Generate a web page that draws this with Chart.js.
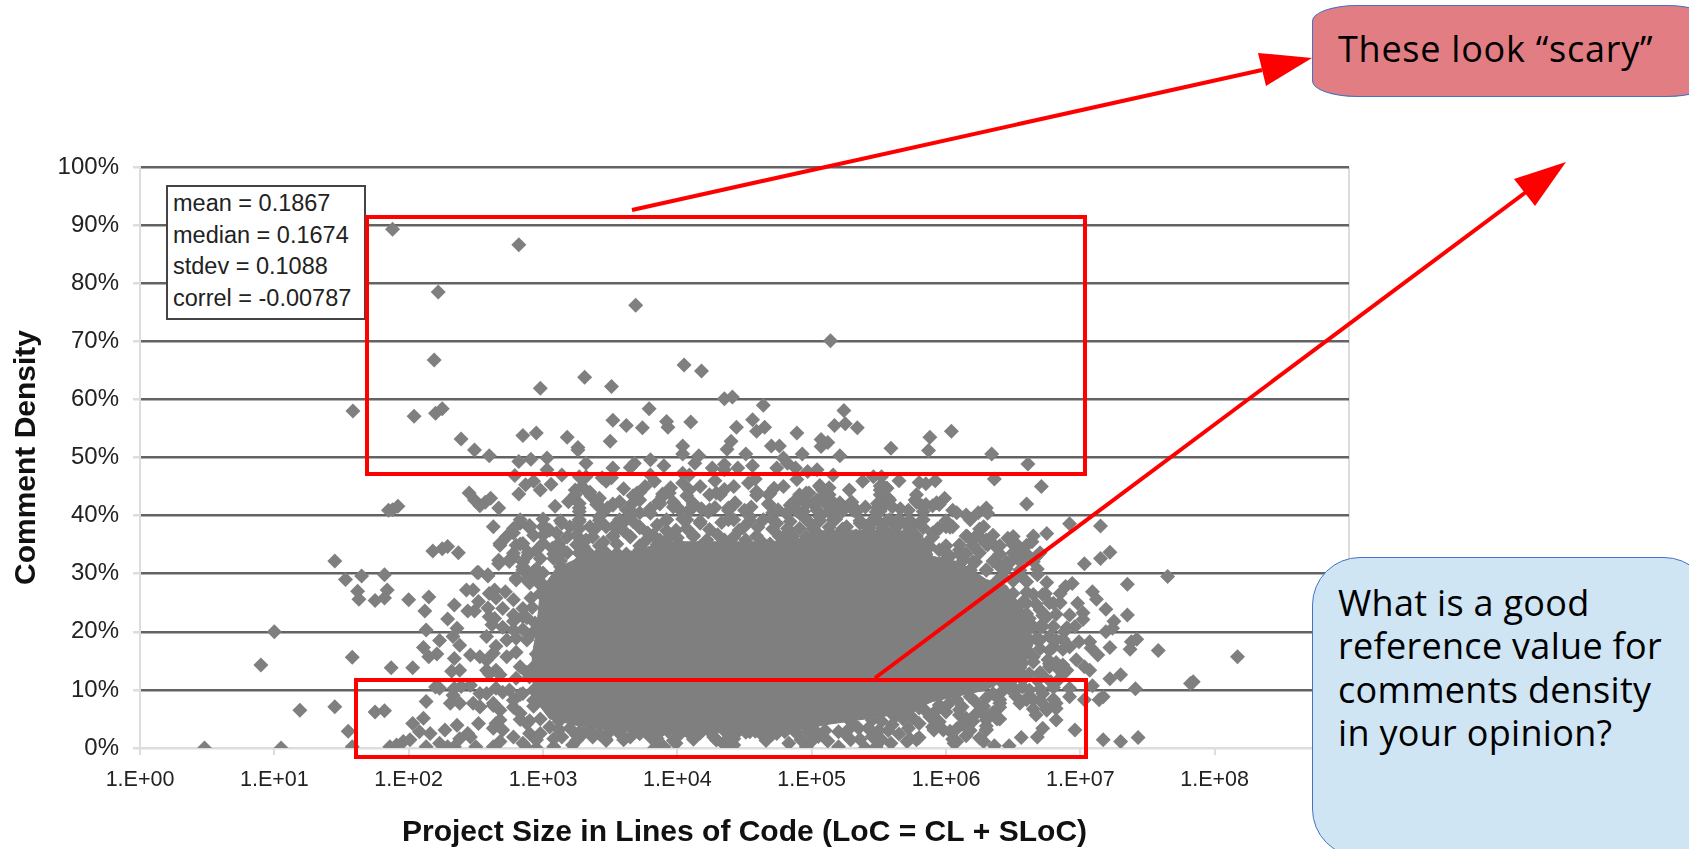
<!DOCTYPE html>
<html>
<head>
    <title>Comment Density</title>
    <style>
        body {
            margin: 0;
            background: white;
            overflow: hidden;
        }

        #page {
            position: relative;
            width: 1689px;
            height: 849px;
            overflow: hidden;
        }

        #chart {
            position: absolute;
            left: 0;
            top: 0;
        }

        #overlay {
            position: absolute;
            left: 0;
            top: 0;
        }

        .stats {
            position: absolute;
            left: 166px;
            top: 185px;
            width: 200px;
            height: 135px;
            box-sizing: border-box;
            background: white;
            border: 2px solid #444;
            padding: 1px 0 0 5px;
            font: 23.5px/31.5px "Liberation Sans", sans-serif;
            color: #222;
            white-space: nowrap;
        }

        .callout {
            position: absolute;
            box-sizing: border-box;
            border: 1px solid #4472c4;
            font-family: "Open Sans", sans-serif;
            font-size: 36px;
            color: black;
            white-space: nowrap;
        }

        .scary {
            left: 1312px;
            top: 5px;
            width: 400px;
            height: 92px;
            background: #e27d83;
            border-radius: 45px / 16px;
            padding: 18px 0 0 25px;
            letter-spacing: 0.75px;
        }

        .question {
            left: 1312px;
            top: 557px;
            width: 400px;
            height: 300px;
            background: #cfe5f4;
            border-radius: 48px;
            line-height: 43.4px;
            padding: 23px 0 0 25px;
            letter-spacing: 0.3px;
        }
    </style>
    <script src="https://cdn.jsdelivr.net/npm/chart.js"></script>
</head>
<body>

    <div id="page">
        <canvas id="chart" width="1689" height="849"></canvas>

        <div class="stats">mean = 0.1867<br>median = 0.1674<br>stdev = 0.1088<br>correl = -0.00787</div>

        <svg id="overlay" width="1689" height="849">
            <rect x="367" y="217" width="718" height="257" fill="none" stroke="#ff0000" stroke-width="4"/>
            <rect x="356" y="680" width="730" height="77" fill="none" stroke="#ff0000" stroke-width="4"/>
            <line x1="632" y1="210" x2="1262" y2="70" stroke="#ff0000" stroke-width="4"/>
            <polygon points="1312,58 1258,53 1266,86" fill="#ff0000"/>
            <line x1="875" y1="678" x2="1526" y2="192" stroke="#ff0000" stroke-width="4"/>
            <polygon points="1566,162 1514,179 1535,206" fill="#ff0000"/>
        </svg>

        <div class="callout scary">These look “scary”</div>
        <div class="callout question">What is a good<br>reference value for<br>comments density<br>in your opinion?</div>
    </div>

    <script>
        // every point below is [log10(LoC), comment density %]
        const xDecades = [1, 1e1, 1e2, 1e3, 1e4, 1e5, 1e6, 1e7, 1e8, 1e9];
        const xTickLabels = ['1.E+00', '1.E+01', '1.E+02', '1.E+03', '1.E+04', '1.E+05', '1.E+06', '1.E+07', '1.E+08', ''];

        const farOutliers = [
            [0.48, 0], [1.05, 0], [0.90, 14.3], [1.00, 20], [1.19, 6.5], [1.45, 7.1], [1.55, 2.9], [1.58, 15.6],
            [1.45, 32.2], [1.53, 29], [1.65, 29.6], [1.62, 27], [1.63, 25.6], [1.75, 25.4], [1.58, 0.2], [1.75, 6.2],
            [1.585, 58], [1.88, 89.3], [2.82, 86.6], [2.22, 78.5], [2.19, 66.8], [2.04, 57.1], [2.20, 57.6], [2.25, 58.4],
            [3.31, 63.8], [2.98, 61.9], [3.51, 62.2], [3.69, 76.2], [5.14, 70.1], [4.05, 65.9], [4.18, 64.9],
            [4.35, 60.1], [4.41, 60.4], [4.64, 59], [1.85, 40.9], [1.88, 41], [1.92, 41.6],
            [8.17, 15.7], [7.84, 11.4], [7.82, 11.1], [7.65, 29.5], [7.58, 16.8], [7.41, 10.2],
            [7.17, 1.4], [7.30, 1.1], [7.43, 1.8]
        ];

        const band50to60 = [
            [2.39, 53.2], [2.49, 51.3], [2.60, 50.3], [2.85, 53.8], [2.95, 54.2], [3.18, 53.5], [3.26, 51.3], [3.26, 51.7],
            [3.50, 52.8], [3.52, 56.4], [3.62, 55.5], [3.74, 55.1], [3.79, 58.4], [3.92, 56.2], [3.93, 55.2], [4.10, 56.1],
            [4.04, 52], [4.04, 50.6], [4.16, 50.3], [4.44, 55.2], [4.40, 52.8], [4.37, 51.4], [4.56, 56.5], [4.59, 54.5],
            [4.65, 55.2], [4.51, 50.6], [4.70, 52], [4.76, 52], [4.89, 54.2], [4.93, 50.6], [5.07, 53.1], [5.12, 52.6],
            [5.07, 51.9], [5.21, 50.3], [5.24, 58.1], [5.17, 55.5], [5.25, 55.8], [5.34, 55.1], [5.59, 51.6],
            [5.88, 53.5], [6.04, 54.5], [5.87, 51.2], [6.34, 50.6]
        ];

        const band40to50 = [
            [2.82, 49.3], [2.91, 49.7], [3.03, 49.9], [3.32, 49], [3.68, 49], [3.65, 48.3], [3.80, 49.6], [3.90, 48.6],
            [4.13, 49], [4.26, 48.2], [4.35, 48.8], [4.35, 47.9], [4.45, 48.2], [4.56, 48.6], [4.79, 49.9], [4.82, 49],
            [2.79, 46.9], [3.03, 47.9], [3.14, 47], [3.52, 48.2], [3.27, 46.7], [3.32, 46.7], [3.44, 46.5], [3.47, 45.9],
            [3.51, 46.5], [3.80, 47], [3.83, 45.9], [4.04, 47.3], [4.09, 47], [4.28, 46], [4.53, 45.6], [4.58, 46.3],
            [4.74, 48.2], [4.88, 48.2], [4.97, 47.6], [5.04, 47.9], [5.16, 47], [5.38, 45.9], [5.46, 46.7], [5.52, 46.7],
            [5.65, 46], [5.80, 45.7], [5.85, 45.5], [5.92, 46], [6.36, 46.3], [6.61, 48.9], [6.71, 45], [6.60, 42],
            [2.87, 45.3], [2.93, 45.9], [2.98, 44.4], [3.06, 45.4], [2.82, 43.7], [2.45, 43.9], [2.49, 42.7], [2.53, 41.7],
            [2.57, 42.3], [2.61, 43], [2.67, 41.3], [3.09, 41.6], [3.19, 42.4], [3.24, 44.4], [3.29, 45], [3.34, 43.9],
            [3.36, 43.3], [3.40, 41.9], [3.27, 41.3], [3.52, 42], [3.57, 42.4], [3.70, 43.9], [3.76, 45], [3.72, 42.7],
            [3.89, 43.3], [3.86, 42.4], [3.94, 43.9], [3.97, 41.5], [4.04, 45.6], [4.09, 44.4], [4.12, 42.1], [4.09, 41],
            [4.17, 45], [4.24, 43.6], [4.32, 43.6], [4.42, 45], [4.43, 42.1], [4.38, 41.3], [4.59, 44.1], [4.68, 43.6],
            [4.68, 42.1], [4.79, 45], [4.89, 46.2], [4.96, 43.9], [4.91, 42.7], [4.84, 41.8], [5.06, 45], [5.11, 43.6],
            [5.14, 41.6], [5.04, 42.7], [5.21, 41.8], [5.29, 42.1], [5.31, 41], [5.51, 44.4], [5.56, 44.7], [5.51, 41.6],
            [5.58, 42.7], [5.54, 44.9], [5.51, 43.6], [5.57, 43], [5.49, 41.3], [5.54, 41.8], [5.77, 42.7], [5.82, 41.7],
            [5.90, 41.7], [5.99, 43], [5.95, 41.9], [6.05, 40.9], [6.15, 40.1], [6.24, 40.5], [6.30, 41.3], [6.31, 40.4],
            [5.30, 42.3], [5.21, 41.9], [5.32, 41.3], [5.08, 44.4], [5.13, 43.6], [5.06, 42.7], [4.98, 43.9], [4.94, 42.7]
        ];

        // second pass over the same band, row by row
        const band40to50Rows = [
            [3.24, 43.6], [3.35, 44], [3.67, 43.4], [3.72, 44], [3.89, 43.7], [4.07, 43.4], [4.29, 43.9], [4.59, 43.5],
            [4.69, 43.8], [4.91, 43.6], [5.11, 44], [5.53, 43.5], [3.27, 42.1], [3.40, 42.4], [3.52, 41.8], [3.67, 42.2],
            [3.87, 42], [3.97, 42.3], [4.12, 41.9], [4.43, 42.2], [4.68, 41.9], [4.86, 42.2], [5.01, 42], [5.16, 42.3],
            [5.28, 41.9], [5.51, 42.2], [3.27, 40.7], [3.45, 40.9], [3.72, 40.5], [4.09, 40.8], [4.23, 40.6], [4.38, 40.9],
            [4.71, 40.5], [4.89, 40.8], [5.13, 40.6], [5.31, 40.9], [5.48, 40.6], [4.94, 40.7], [5.04, 40.9], [5.16, 40.5],
            [5.23, 40.8], [5.33, 40.6], [5.51, 40.8], [5.83, 40.7], [6.08, 40.5], [4.96, 42], [5.04, 42.3], [5.11, 41.9],
            [5.21, 42.2], [5.29, 41.9], [5.49, 42.1], [5.78, 42.3], [5.85, 41.9], [5.93, 42.2], [5.78, 43.6], [5.06, 45.2],
            [5.13, 44.8], [5.51, 45.1], [5.56, 44.7], [3.60, 44.6], [3.95, 44.8], [4.35, 44.5], [4.72, 44.7], [5.28, 44.4],
            [3.42, 43], [3.80, 41.2], [4.18, 41.2], [4.55, 41.5], [4.75, 41], [5.40, 41.5], [5.66, 41.2], [5.72, 40.9],
            [3.62, 41], [3.48, 41.3], [4.02, 41], [4.28, 41.4], [4.50, 40.9], [5.60, 41.5]
        ];

        const band30to40 = [
            [2.63, 38.1], [2.83, 38.7], [2.90, 38.3], [2.78, 37], [2.73, 36.4], [2.68, 35.2], [2.80, 34.9], [2.85, 35.2],
            [2.78, 32.9], [2.89, 33.2], [2.75, 32.4], [2.67, 31.7], [3.00, 38.1], [3.05, 37.5], [3.00, 35.2], [3.12, 35.2],
            [3.07, 34.4], [3.14, 38.7], [2.18, 33.9], [2.25, 34.3], [2.29, 34.7], [2.37, 33.6], [2.51, 30.2], [2.59, 29.8],
            [3.27, 39.3], [3.35, 38.1], [3.32, 35.8], [3.42, 39.8], [3.47, 38.1], [3.55, 38.7], [3.52, 36.4], [3.62, 39.3],
            [3.67, 40.4], [3.65, 36.4], [3.72, 38.1], [3.80, 40.4], [3.85, 38.4], [3.92, 39.3], [3.77, 35.8], [3.87, 35.8],
            [3.99, 37.5], [4.07, 39.3], [4.17, 38.7], [4.24, 41], [4.12, 36.4], [4.22, 35.8], [4.42, 39.3], [4.46, 37.5],
            [4.54, 39.8], [4.64, 39.3], [4.74, 38.7], [4.81, 40.4], [4.91, 40.4], [4.99, 38.7], [4.86, 36.4], [4.76, 36.4],
            [5.06, 39.8], [5.16, 39.3], [5.26, 38.1], [5.36, 38.7], [5.46, 39.3], [5.58, 39.3], [5.51, 37], [4.51, 35.8],
            [4.64, 35.2], [4.99, 35.8], [5.11, 35.2], [5.21, 35.8], [5.38, 36.4], [5.48, 34.7], [5.63, 36.4], [3.27, 33.5],
            [3.35, 32.4], [3.27, 31.2], [3.42, 33.5], [3.47, 31.8], [3.55, 33.5], [3.65, 32.4], [3.72, 34.1], [3.80, 31.8],
            [3.87, 33.5], [3.97, 34.1], [4.09, 33.5], [4.17, 34.7], [4.29, 34.1], [4.40, 34], [3.13, 31.2], [3.18, 30.1],
            [3.00, 30.1], [2.93, 30.4], [2.85, 31.2], [2.80, 29.2], [3.08, 32.6], [3.18, 33.6], [2.98, 32.6],
            [6.92, 38.6], [7.15, 38.2], [6.75, 36.9], [6.64, 35.5], [6.46, 36.1], [6.52, 35.2], [7.22, 33.7], [7.15, 32.6],
            [7.03, 31.7], [6.28, 38.1], [6.22, 36.4], [6.30, 35.8], [6.37, 34.7], [6.31, 35], [6.16, 36.4], [6.15, 33.5],
            [6.10, 34.1], [6.20, 32.1], [6.40, 31.2], [6.50, 33.5], [6.55, 34.1], [6.47, 31.8], [6.60, 32.9], [6.67, 32.9],
            [6.68, 29.8], [6.00, 38.1], [5.94, 37.8], [6.05, 38.1], [5.90, 37], [5.78, 33.4], [5.65, 38.7], [5.73, 38.1],
            [5.80, 38.7], [5.51, 38.7], [5.41, 38.1], [5.23, 37.5], [5.32, 35.8], [5.15, 36.4], [6.18, 39.3], [5.88, 34.7],
            [5.95, 34.1], [6.03, 33], [5.83, 32.4], [5.90, 31.8], [6.03, 30.6], [6.18, 30.6], [6.30, 30.6]
        ];

        // second pass, left half of the 30-40% band
        const band30to40Left = [
            [2.83, 39.3], [3.00, 39.4], [3.13, 39.1], [3.27, 39], [3.42, 39.2], [3.57, 39.3], [3.67, 39], [3.92, 39.2],
            [4.04, 39.4], [4.17, 39], [4.38, 39.3], [4.54, 39.1], [4.71, 39.3], [4.84, 39], [2.78, 37.8], [2.90, 37.9],
            [3.03, 37.7], [3.27, 37.8], [3.40, 38], [3.55, 37.6], [3.72, 37.9], [4.07, 37.8], [4.24, 37.6], [4.49, 37.9],
            [4.71, 37.7], [4.91, 37.8], [2.73, 36.4], [3.00, 36.6], [3.18, 36.3], [3.25, 36.6], [3.37, 36.3], [3.52, 36.5],
            [3.65, 36.3], [3.82, 36.6], [3.94, 36.3], [4.12, 36.6], [4.42, 36.3], [4.59, 36.5], [4.79, 36.3], [2.68, 34.9],
            [2.83, 35.1], [3.10, 34.8], [3.25, 35], [3.42, 34.8], [3.55, 35.1], [3.72, 34.8], [3.85, 35], [4.02, 34.9],
            [4.22, 35], [4.51, 34.8], [4.69, 35.1], [4.86, 34.9], [2.78, 33.5], [2.89, 33.7], [3.08, 33.4], [3.27, 33.6],
            [3.35, 33.4], [3.47, 33.6], [3.62, 33.4], [3.75, 33.6], [3.92, 33.4], [4.09, 33.6], [2.75, 32.1], [2.67, 32.3],
            [2.85, 32], [3.13, 32.2], [3.27, 32], [3.40, 32.2], [3.52, 32.1], [3.67, 32], [3.82, 32.2], [3.99, 32],
            [4.14, 32.2], [2.85, 30.7], [2.95, 30.8], [3.15, 30.6], [3.25, 30.8], [3.42, 30.6], [3.57, 30.8], [3.72, 30.6],
            [3.89, 30.8], [4.07, 30.7], [4.22, 30.7], [3.10, 37], [3.20, 38.1], [3.45, 35.4], [3.60, 37.4], [3.78, 37],
            [3.92, 37.4], [4.00, 36.2], [4.30, 36.7], [4.33, 38.8], [4.60, 38], [4.82, 37.8], [3.15, 34], [3.30, 34.7],
            [3.40, 31.2], [3.60, 31.2], [3.75, 33], [3.95, 32.8], [4.25, 32.8], [4.35, 35.8], [2.95, 34], [2.93, 36.6]
        ];

        // second pass, right half of the 30-40% band
        const band30to40Right = [
            [4.96, 39.3], [5.06, 39.1], [5.18, 39.4], [5.36, 39.1], [5.46, 39.3], [5.56, 39.1], [5.65, 39.4], [5.73, 39.2],
            [5.83, 39.3], [6.00, 39.1], [6.18, 39.4], [5.01, 37.8], [5.13, 38], [5.23, 37.7], [5.43, 37.9], [5.53, 37.8],
            [5.63, 38], [5.73, 37.7], [5.83, 37.9], [5.95, 37.8], [6.03, 38], [6.25, 37.7], [4.96, 36.4], [5.06, 36.6],
            [5.16, 36.3], [5.33, 36.5], [5.46, 36.4], [5.58, 36.6], [5.68, 36.3], [5.78, 36.5], [5.90, 36.3], [6.15, 36.5],
            [6.25, 36.3], [6.35, 36.6], [6.50, 36.4], [6.65, 36.5], [5.06, 34.9], [5.23, 35.1], [5.41, 34.8], [5.56, 35],
            [5.70, 34.9], [5.85, 35.1], [6.00, 34.8], [6.10, 35], [6.20, 34.9], [6.30, 35.1], [6.40, 34.8], [6.50, 35],
            [6.60, 34.9], [5.11, 33.5], [5.28, 33.7], [5.46, 33.4], [5.65, 33.6], [5.85, 33.4], [6.00, 33.6], [6.10, 33.4],
            [6.25, 33.6], [6.40, 33.4], [6.50, 33.6], [6.60, 33.4], [6.70, 33.6], [5.98, 32.1], [6.13, 32.3], [6.22, 32],
            [6.35, 32.2], [6.45, 32], [6.55, 32.2], [6.65, 32.1], [6.30, 30.7], [6.45, 30.9], [6.55, 30.6], [6.68, 30.8],
            [5.90, 30.7], [6.05, 30.9], [6.18, 30.6], [6.42, 29.5], [6.50, 28.8], [6.60, 28.6], [6.55, 29.8], [6.38, 28.8]
        ];

        const leftFlank = [
            [1.82, 29.8], [2.52, 30.2], [2.59, 29.6], [1.84, 27.2], [1.82, 25.8], [2.00, 25.5], [2.15, 26], [2.12, 23.6],
            [2.34, 24.6], [2.29, 22.2], [2.43, 27.2], [2.48, 27.2], [2.52, 25.2], [2.44, 23.6], [2.49, 23.6], [2.13, 20.3],
            [2.36, 20.6], [2.23, 18.5], [2.33, 19.2], [2.38, 17.7], [2.11, 17.3], [2.15, 15.7], [2.21, 16.2], [2.34, 15.4],
            [2.38, 13.4], [2.32, 13.2], [1.87, 13.8], [2.03, 13.8], [2.46, 16], [2.53, 15.7], [2.58, 15.1], [2.58, 13.4],
            [2.65, 13.4], [2.64, 27.2], [2.72, 26.9], [2.78, 25.5], [2.65, 25.8], [2.59, 24.1], [2.64, 22.3], [2.62, 21.2],
            [2.80, 28.9], [2.88, 28.9], [2.94, 29.8], [2.85, 31.2], [2.78, 21.8], [2.85, 22.6], [2.94, 21.5], [2.91, 25.8],
            [2.98, 28.1], [2.58, 19.2], [2.65, 17.5], [2.73, 18.6], [2.80, 18.9], [2.88, 18.6], [2.73, 15.7], [2.83, 14],
            [2.93, 14], [2.78, 20.3], [2.20, 10.5], [2.23, 10.3], [2.13, 8], [1.82, 6.4], [2.34, 10.3], [2.39, 10.6],
            [2.46, 10.8], [2.31, 7.7], [2.38, 7.7], [2.33, 9.1], [2.53, 9.4], [2.48, 7.7], [2.53, 7.1], [2.63, 7.7],
            [2.68, 6.5], [2.11, 5.1], [2.03, 4.2], [2.08, 2.8], [2.16, 2.5], [2.36, 3.9], [2.27, 3.1], [2.52, 4.2],
            [2.46, 1.9], [2.38, 1.6], [2.44, 2.5], [2.63, 3.4], [2.65, 4.2], [2.70, 3.1], [2.78, 1.9], [2.68, 1.1],
            [2.85, 0.8], [2.90, 2.5], [2.95, 1.4], [2.83, 6], [2.78, 8.2], [2.75, 10], [2.85, 9.4], [2.65, 10.3],
            [2.93, 8.2], [2.93, 10], [2.98, 5], [2.88, 4.2], [3.05, 3.6], [3.12, 4.6], [2.80, 12], [2.90, 12.2],
            [2.90, 28.4], [2.98, 28.6], [2.60, 26.6], [2.98, 26.6], [2.60, 22.6], [2.78, 22.9], [2.88, 22.4], [2.63, 16.3],
            [2.80, 16.5], [2.95, 16.2], [2.60, 12.8], [2.68, 12.6], [2.88, 13], [2.98, 12.6], [2.58, 9.4], [2.70, 9.6],
            [2.83, 9.2], [2.95, 9.5], [2.53, 7.1], [2.63, 7.3], [2.78, 7], [2.93, 7.2], [2.68, 4.8], [2.83, 4.9],
            [2.90, 4.7], [2.85, 24], [2.92, 24.2], [2.70, 24], [2.85, 20.4], [2.70, 20.8], [2.92, 19.8]
        ];

        const rightFlank = [
            [7.35, 28.2], [6.89, 27.8], [6.94, 28.3], [7.09, 26.9], [7.12, 25.6], [7.19, 23.9], [6.98, 24.9], [7.02, 23.3],
            [7.02, 22.1], [7.35, 22.9], [7.25, 21.8], [7.19, 20], [7.24, 20.6], [6.96, 20.9], [6.88, 20], [6.65, 26.4],
            [6.74, 26.6], [6.80, 24.9], [6.85, 25], [6.75, 28.5], [7.42, 18.7], [7.38, 18.3], [7.37, 17], [7.22, 17.3],
            [6.92, 17.4], [6.99, 18.3], [7.07, 18.3], [7.08, 17.2], [7.13, 16], [6.97, 15.2], [7.03, 14], [7.07, 13.4],
            [6.87, 14.3], [6.90, 13.4], [7.30, 12.6], [7.22, 11.9], [7.09, 10.7], [7.17, 8.8], [7.14, 8.3], [7.03, 8.3],
            [6.92, 10.3], [6.92, 8.8], [6.82, 4.8], [6.96, 3.1], [6.72, 3.4], [6.68, 1.9], [6.56, 1.8], [6.47, 0.4],
            [6.36, 0.4], [6.67, 5.7], [6.75, 6.5], [6.82, 7.7], [6.65, 8.3], [6.60, 8.3], [6.72, 9.4], [6.52, 10],
            [6.56, 12.8], [6.80, 17.4], [6.70, 18.6], [6.65, 15.7], [6.77, 14], [6.82, 14], [6.76, 15.2], [6.70, 13],
            [6.57, 11.7], [6.80, 20.9], [6.75, 22.6], [6.70, 23.8], [6.65, 20.9], [6.60, 24.9], [6.62, 22.3], [6.70, 20.9],
            [6.77, 19.2], [6.82, 18.6], [6.28, 1.1], [6.15, 2.1], [6.30, 3.1], [6.30, 3.8], [6.08, 1.1], [6.03, 2.9],
            [5.90, 3.6], [5.95, 4.5], [6.20, 4.6], [6.30, 4.8], [6.38, 5], [6.55, 7.7], [6.40, 7.7],
            [6.10, 5.7], [5.80, 4.2], [6.50, 26.6], [6.60, 26.8], [6.72, 26.4], [6.85, 26.6], [6.45, 24.9], [6.57, 25.1],
            [6.67, 24.8], [6.77, 25], [6.52, 22.9], [6.60, 23.1], [6.72, 22.8], [6.82, 23], [6.92, 22.9], [6.62, 20.7],
            [6.72, 20.9], [6.90, 20.7], [6.60, 18.6], [6.67, 18.8], [6.80, 18.5], [6.87, 18.7], [6.60, 16.9], [6.70, 17.1],
            [6.77, 16.8], [6.87, 17], [6.57, 14.6], [6.65, 14.8], [6.77, 14.5], [6.82, 14.7], [6.52, 12.6], [6.62, 12.8],
            [6.72, 12.5], [6.87, 12.7], [6.47, 10.3], [6.57, 10.5], [6.70, 10.2], [6.80, 10.4], [6.40, 8.3], [6.60, 8.5],
            [6.70, 8.2], [6.80, 8.4], [6.27, 6.8], [6.40, 7], [6.65, 6.7], [6.75, 6.9], [6.82, 6.8], [6.15, 5.1],
            [6.30, 5.3], [6.40, 5], [5.98, 3.1], [6.08, 3.3], [6.18, 3], [6.30, 3.2], [5.73, 1.6], [5.80, 1.8],
            [6.05, 1.5], [6.25, 1.7]
        ];

        const lowerRightCloud = [
            [5.52, 4.6], [5.62, 5.4], [5.75, 5.2], [5.72, 6.4], [5.84, 6.6], [5.88, 5.4], [6.00, 6.2], [6.02, 7.6],
            [5.95, 7.4], [6.12, 7.1], [6.22, 7.9], [6.18, 8.8], [6.30, 8.6], [6.35, 9.4], [6.42, 9.8], [6.48, 11.4],
            [6.12, 4.1], [6.22, 5.8], [6.35, 6.1], [6.52, 8.9], [6.62, 10], [6.68, 11.6], [6.78, 11.4], [6.84, 11.8],
            [5.10, 5], [5.25, 5.5], [5.35, 6.2], [5.45, 6.8], [5.55, 6.9], [5.65, 7.6], [5.75, 8], [5.85, 8.9],
            [5.95, 9.4], [6.05, 9.9], [6.15, 10.3], [6.25, 10.9], [6.35, 11.6], [5.30, 4.4], [5.45, 4.8], [5.60, 5.9],
            [5.80, 6.9], [5.92, 6.3], [6.08, 8.3], [6.28, 7.2], [6.10, 6.6], [6.42, 11.2], [6.55, 13.8], [5.42, 3.4]
        ];

        const bottomFringe = [
            [2.23, 0.8], [2.29, 0.2], [2.34, 0.2], [2.50, 0.2], [2.13, 0.2], [1.86, 0.2], [1.91, 0.5], [1.96, 1.1],
            [2.01, 1.4], [2.63, 0.2], [2.88, 0], [2.95, 0], [3.08, 0.2], [3.14, 1.9], [3.25, 2.2], [3.22, 0.5],
            [3.47, 1.3], [3.37, 1.9], [3.30, 2.5], [3.57, 2.5], [3.65, 1.9], [3.85, 0.5], [3.90, 0.2], [3.99, 0.8],
            [4.13, 1.9], [4.34, 0.8], [4.42, 0.5], [4.27, 1.9], [4.19, 3.1], [3.80, 1.9], [3.72, 2.5], [4.54, 2.8],
            [4.64, 2.2], [4.74, 2.5], [3.83, 0], [4.40, 0.5], [4.29, 1.4], [4.62, 2.5], [4.83, 0.8], [4.96, 0.2],
            [5.01, 1.4], [5.20, 0.2], [5.40, 0], [5.29, 1.4], [5.48, 0.2], [5.59, 0.8], [5.71, 1.1], [5.78, 1.4],
            [5.91, 3.1], [6.06, 0.8], [4.88, 2.7], [4.97, 2.8], [5.10, 3], [5.20, 2.8], [5.35, 3.4], [5.50, 3],
            [5.60, 4], [5.68, 5], [2.98, 2.5], [3.27, 2.7], [3.42, 2.4], [3.57, 2.6], [3.72, 2.5], [3.87, 2.7],
            [4.02, 2.4], [4.17, 2.6], [4.37, 2.5], [4.51, 2.7], [4.71, 2.4], [2.95, 1.4], [3.08, 1.6], [3.25, 1.3],
            [3.47, 1.5], [3.60, 1.4], [3.85, 1.6], [3.97, 1.3], [4.12, 1.5], [4.29, 1.4], [4.42, 1.6], [4.66, 1.3],
            [5.05, 2], [5.25, 2.4], [5.45, 2], [5.65, 2.4], [4.92, 1.4], [5.12, 1.2], [5.36, 1.5], [5.52, 1.4],
            [3.12, 3.2], [3.20, 3.4], [3.35, 3], [3.50, 2.9], [3.78, 2.8], [3.93, 2.9], [4.08, 2.7], [4.24, 2.9],
            [4.45, 2.8], [4.58, 2.9], [4.80, 2.8], [5.02, 3.1], [5.28, 3.3], [5.43, 3.3], [5.57, 3], [5.72, 3.4]
        ];

        // middle of the cloud is solid grey in the picture, single points cannot be told apart.
        // so this is the outline of the solid part, read the same way
        const solidCoreOutline = [
            [2.95, 20], [2.98, 27], [3.10, 31], [3.30, 33], [3.50, 33.5], [3.70, 34], [3.90, 35.5], [4.20, 35.5],
            [4.45, 35.5], [4.70, 35.5], [4.90, 36], [5.10, 37.5], [5.40, 37.5], [5.65, 37.5], [5.85, 36], [5.90, 33],
            [6.10, 32], [6.30, 29], [6.45, 28], [6.60, 23], [6.65, 18], [6.60, 15], [6.45, 12], [6.30, 10],
            [6.10, 9], [5.90, 8], [5.70, 6], [5.40, 5], [5.10, 4], [4.90, 3], [4.50, 2.6], [4.20, 2.6],
            [3.90, 2.6], [3.60, 2.8], [3.30, 3.6], [3.05, 5], [2.95, 8], [2.92, 12], [2.92, 16], [2.95, 20]
        ];

        const markerGrey = '#7f7f7f';
        const toPoint = p => ({ x: Math.pow(10, p[0]), y: p[1] });
        const allPoints = [...farOutliers, ...band50to60, ...band40to50, ...band40to50Rows, ...band30to40,
            ...band30to40Left, ...band30to40Right, ...leftFlank, ...rightFlank, ...lowerRightCloud, ...bottomFringe];

        new Chart(document.getElementById('chart'), {
            type: 'scatter',
            data: {
                datasets: [
                    {
                        data: solidCoreOutline.map(toPoint),
                        showLine: true,
                        fill: 'shape',
                        pointRadius: 0,
                        borderColor: markerGrey,
                        backgroundColor: markerGrey,
                        borderWidth: 1,
                        tension: 0
                    },
                    {
                        data: allPoints.map(toPoint),
                        pointStyle: 'rectRot',
                        pointRadius: 7.5,
                        pointBackgroundColor: markerGrey,
                        pointBorderColor: markerGrey,
                        pointBorderWidth: 0
                    }
                ]
            },
            options: {
                responsive: false,
                animation: false,
                layout: { padding: { left: 0, top: 167, right: 340, bottom: 0 } },
                plugins: { legend: { display: false }, tooltip: { enabled: false } },
                scales: {
                    x: {
                        type: 'logarithmic',
                        min: 1,
                        max: 1e9,
                        afterBuildTicks: axis => { axis.ticks = xDecades.map(v => ({ value: v, major: true })); },
                        afterFit: axis => { axis.height = 101; },
                        ticks: {
                            autoSkip: false,
                            maxRotation: 0,
                            padding: 12,
                            color: '#222',
                            font: { family: 'Liberation Sans', size: 21.5 },
                            callback: value => xTickLabels[xDecades.indexOf(value)]
                        },
                        grid: {
                            color: c => (c.tick && c.tick.value === 1e9 ? '#dddddd' : 'rgba(0,0,0,0)'),
                            tickColor: '#dddddd',
                            tickLength: 7,
                            lineWidth: 2
                        },
                        border: { color: '#dddddd', width: 2 },
                        title: {
                            display: true,
                            text: 'Project Size in Lines of Code (LoC = CL + SLoC)',
                            color: '#111',
                            font: { family: 'Liberation Sans', size: 30, weight: 'bold' },
                            padding: { top: 14, bottom: -2 }
                        }
                    },
                    y: {
                        min: 0,
                        max: 100,
                        afterFit: axis => { axis.width = 140; },
                        ticks: {
                            stepSize: 10,
                            padding: 14,
                            color: '#222',
                            font: { family: 'Liberation Sans', size: 24 },
                            callback: value => value + '%'
                        },
                        grid: {
                            color: c => (c.tick && c.tick.value === 0 ? '#dddddd' : '#636363'),
                            tickColor: '#dddddd',
                            tickLength: 7,
                            lineWidth: 2.5
                        },
                        border: { color: '#dddddd', width: 2 },
                        title: {
                            display: true,
                            text: 'Comment Density',
                            color: '#111',
                            font: { family: 'Liberation Sans', size: 30, weight: 'bold' },
                            padding: { top: 9, bottom: 0 }
                        }
                    }
                }
            }
        });
    </script>

</body>
</html>
